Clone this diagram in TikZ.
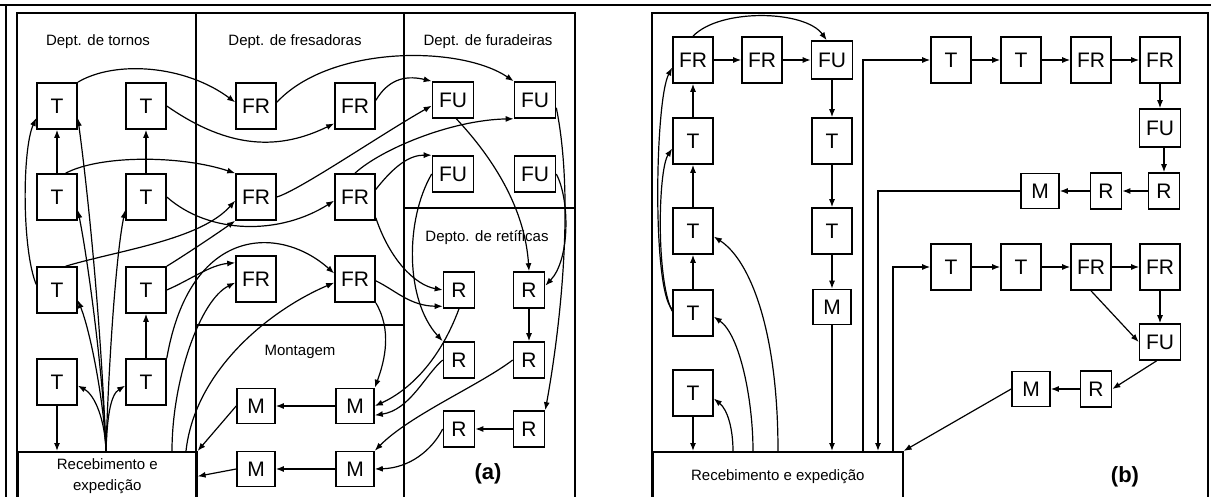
\documentclass[tikz,border=0pt]{standalone}
\usepackage{fontspec}
\setmainfont{Liberation Sans}
\usepackage{tikz}
\usetikzlibrary{arrows.meta}

\begin{document}
\begin{tikzpicture}[x=1pt, y=-1pt,
    box/.style={draw, line width=1.6pt, inner sep=0pt, font=\fontsize{21}{24}\selectfont},
    tbox/.style={box, minimum width=40, minimum height=46},
    fubox/.style={box, minimum width=41, minimum height=36},
    rbox/.style={box, minimum width=31, minimum height=36},
    mbox/.style={box, minimum width=38, minimum height=35},
    rec/.style={draw, line width=1.6pt, anchor=north west, minimum height=49,
                inner sep=0pt, align=center, font=\fontsize{15}{21}\selectfont},
    hdr/.style={font=\fontsize{15}{18}\selectfont},
    tag/.style={font=\fontsize{22}{26}\selectfont\bfseries},
    frame/.style={line width=1.8pt},
    arr/.style={line width=1.2pt, -{Latex[length=8pt,width=6pt]}}
]
\useasboundingbox (0,0) rectangle (1211,497);
\clip (0,0) rectangle (1211,497);

\draw[frame] (0,5) -- (1211,5) (6,5) -- (6,500);
\draw[frame] (17,500) |- (575,13) -- (575,500);
\draw[frame] (196,13) -- (196,500) (404,13) -- (404,500) (196,325) -- (404,325) (404,208) -- (575,208);
\draw[frame] (652,500) |- (1208,13) -- (1208,500);

\node[hdr] (htor) at (98,42) {Dept. de tornos};
\node[hdr] (hfre) at (295,42) {Dept. de fresadoras};
\node[hdr] (hfur) at (488,42) {Dept. de furadeiras};
\node[hdr] (hret) at (487,238) {Depto. de retíficas};
\node[hdr] (hmon) at (300,352) {Montagem};
\node[tag] (taga) at (488,474) {(a)};
\node[tag] (tagb) at (1125,477) {(b)};

\node[tbox] (t1) at (57,106) {T};
\node[tbox] (t2) at (146,106) {T};
\node[tbox] (t3) at (57,197) {T};
\node[tbox] (t4) at (146,197) {T};
\node[tbox] (t5) at (57,290) {T};
\node[tbox] (t6) at (146,290) {T};
\node[tbox] (t7) at (57,382) {T};
\node[tbox] (t8) at (146,382) {T};
\node[tbox] (fr1) at (256,106) {FR};
\node[tbox] (fr2) at (256,197) {FR};
\node[tbox] (fr3) at (256,279) {FR};
\node[tbox] (fr4) at (355,106) {FR};
\node[tbox] (fr5) at (355,197) {FR};
\node[tbox] (fr6) at (355,279) {FR};
\node[fubox] (fu1) at (453,100) {FU};
\node[fubox] (fu2) at (535,100) {FU};
\node[fubox] (fu3) at (453,174) {FU};
\node[fubox] (fu4) at (535,174) {FU};
\node[rbox] (r1) at (459,290) {R};
\node[rbox] (r2) at (529,290) {R};
\node[rbox] (r3) at (459,360) {R};
\node[rbox] (r4) at (529,360) {R};
\node[rbox] (r5) at (459,429) {R};
\node[rbox] (r6) at (529,429) {R};
\node[mbox] (m1) at (355,406) {M};
\node[mbox] (m2) at (256,406) {M};
\node[mbox] (m3) at (355,469) {M};
\node[mbox] (m4) at (256,469) {M};
\node[rec, minimum width=179] (reca) at (17,451) {Recebimento e\\expedição};

\coordinate (fa) at (106,451);
\coordinate (ra1) at (172,451);
\coordinate (ra2) at (186,451);

\draw[arr] (t3) -- (t1);
\draw[arr] (t4) -- (t2);
\draw[arr] (t8) -- (t6);
\draw[arr] (t7) -- (t7 |- reca.north);
\draw[arr] (fa) .. controls (100,300) and (85,170) .. (t1.-30);
\draw[arr] (fa) .. controls (104,380) and (88,260) .. (t3.-32);
\draw[arr] (fa) .. controls (108,380) and (115,260) .. (t4.212);
\draw[arr] (fa) .. controls (104,400) and (90,330) .. (t5.-26);
\draw[arr] (fa) .. controls (105,420) and (95,395) .. (t7.-10);
\draw[arr] (fa) .. controls (107,420) and (110,395) .. (t8.190);
\draw[arr] (t5.165) .. controls (22,250) and (22,150) .. (t1.210);
\draw[arr] (t1.north east) .. controls (115,60) and (185,65) .. (fr1.170);
\draw[arr] (t2.east) .. controls (230,150) and (280,150) .. (fr4.220);
\draw[arr] (t3.70) .. controls (100,155) and (180,155) .. (fr2.north west);
\draw[arr] (t4.east) .. controls (210,235) and (280,235) .. (fr5.190);
\draw[arr] (t5.70) .. controls (120,250) and (200,240) .. (fr2.190);
\draw[arr] (t6.north east) .. controls (185,255) and (215,235) .. (fr2.south west);
\draw[arr] (t6.east) .. controls (190,280) and (210,265) .. (fr3.142);
\draw[arr] (t8.north east) .. controls (190,225) and (280,225) .. (fr6.165);
\draw[arr] (ra1) .. controls (172,380) and (200,300) .. (fr3.190);
\draw[arr] (ra2) .. controls (195,370) and (270,310) .. (fr6.190);
\draw[arr] (fr1.10) .. controls (330,45) and (460,45) .. (fu2.north west);
\draw[arr] (fr4.15) .. controls (390,76) and (410,76) .. (fu1.north west);
\draw[arr] (fr2.east) .. controls (300,190) and (380,135) .. (fu1.195);
\draw[arr] (fr5.north) .. controls (380,150) and (450,120) .. (fu2.south west);
\draw[arr] (fr5.20) .. controls (395,165) and (410,155) .. (fu3.north west);
\draw[arr] (fr5.-45) .. controls (390,260) and (415,285) .. (r1.west);
\draw[arr] (fr6.-5) .. controls (395,290) and (410,306) .. (r1.225);
\draw[arr] (fr6.south east) .. controls (392,330) and (385,360) .. (m1.north east);
\draw[arr] (fu1.-80) .. controls (495,160) and (525,210) .. (r2.north);
\draw[arr] (fu2.-20) .. controls (575,200) and (560,330) .. (r6.north east);
\draw[arr] (fu3.west) .. controls (405,220) and (405,300) .. (r3.north west);
\draw[arr] (fu4.east) .. controls (570,200) and (570,260) .. (r2.15);
\draw[arr] (r2) -- (r4);
\draw[arr] (r6) -- (r5);
\draw[arr] (r1.south) .. controls (440,360) and (410,390) .. (m1.east);
\draw[arr] (r3.west) .. controls (425,375) and (410,410) .. (m1.-25);
\draw[arr] (r4.west) .. controls (480,385) and (410,415) .. (m3.north east);
\draw[arr] (r5.west) .. controls (432,450) and (410,468) .. (m3.east);
\draw[arr] (m1) -- (m2);
\draw[arr] (m3) -- (m4);
\draw[arr] (m2.west) -- (reca.north east);
\draw[arr] (m4.west) -- (reca.east);

\node[tbox] (bfr1) at (693,60) {FR};
\node[tbox] (bfr2) at (762,60) {FR};
\node[fubox, minimum height=38] (bfu1) at (832,60) {FU};
\node[tbox] (bt1) at (693,141) {T};
\node[tbox] (bt2) at (693,231) {T};
\node[tbox] (bt3) at (693,313) {T};
\node[tbox] (bt4) at (693,393) {T};
\node[tbox] (bt5) at (832,141) {T};
\node[tbox] (bt6) at (832,231) {T};
\node[mbox] (bm1) at (832,307) {M};
\node[tbox] (bt7) at (951,60) {T};
\node[tbox] (bt8) at (1021,60) {T};
\node[tbox] (bfr3) at (1091,60) {FR};
\node[tbox] (bfr4) at (1160,60) {FR};
\node[fubox, minimum height=38] (bfu2) at (1160,128) {FU};
\node[rbox] (br1) at (1164,191) {R};
\node[rbox] (br2) at (1106,191) {R};
\node[mbox] (bm2) at (1040,191) {M};
\node[tbox] (bt9) at (951,267) {T};
\node[tbox] (bt10) at (1021,267) {T};
\node[tbox] (bfr5) at (1091,267) {FR};
\node[tbox] (bfr6) at (1160,267) {FR};
\node[fubox] (bfu3) at (1160,342) {FU};
\node[rbox] (br3) at (1096,389) {R};
\node[mbox] (bm3) at (1031,389) {M};
\node[rec, minimum width=250] (recb) at (652,451) {Recebimento e expedição};

\coordinate (rb1) at (733,451);
\coordinate (rb2) at (753,451);
\coordinate (rb3) at (778,451);
\coordinate (rb4) at (863,451);
\coordinate (rb5) at (878,451);
\coordinate (rb6) at (893,451);

\draw[arr] (bfr1) -- (bfr2);
\draw[arr] (bfr2) -- (bfu1);
\draw[arr] (bfr1.north) .. controls (720,8) and (805,10) .. (bfu1.105);
\draw[arr] (bt1) -- (bfr1);
\draw[arr] (bt2) -- (bt1);
\draw[arr] (bt3) -- (bt2);
\draw[arr] (bt4) -- (bt4 |- recb.north);
\draw[arr] (bfu1) -- (bt5);
\draw[arr] (bt5) -- (bt6);
\draw[arr] (bt6) -- (bm1);
\draw[arr] (bm1) -- (bm1 |- recb.north);
\draw[arr] (bt3.170) .. controls (652,290) and (655,100) .. (bfr1.200);
\draw[arr] (bt3.175) .. controls (656,280) and (658,170) .. (bt1.200);
\draw[arr] (rb1) .. controls (733,430) and (728,410) .. (bt4.-15);
\draw[arr] (rb2) .. controls (753,400) and (740,335) .. (bt3.-10);
\draw[arr] (rb3) .. controls (778,330) and (750,260) .. (bt2.-15);
\draw[arr] (rb4) |- (bt7);
\draw[arr] (rb6) |- (bt9);
\draw[arr] (bm2) -| (rb5);
\draw[arr] (bt7) -- (bt8);
\draw[arr] (bt8) -- (bfr3);
\draw[arr] (bfr3) -- (bfr4);
\draw[arr] (bfr4) -- (bfu2);
\draw[arr] (bfu2.south -| br1) -- (br1);
\draw[arr] (br1) -- (br2);
\draw[arr] (br2) -- (bm2);
\draw[arr] (bt9) -- (bt10);
\draw[arr] (bt10) -- (bfr5);
\draw[arr] (bfr5) -- (bfr6);
\draw[arr] (bfr6) -- (bfu3);
\draw[arr] (bfr5.south) -- (bfu3.west);
\draw[arr] (bfu3.-100) -- (br3.east);
\draw[arr] (br3) -- (bm3);
\draw[arr] (bm3.west) -- (recb.north east);
\end{tikzpicture}
\end{document}
